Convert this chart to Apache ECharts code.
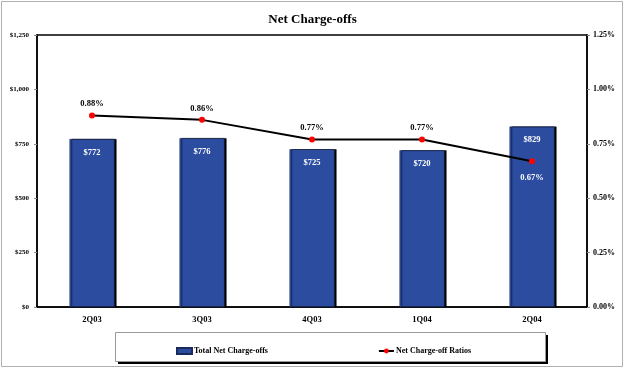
<!DOCTYPE html>
<html><head><meta charset="utf-8">
<script src="https://cdn.jsdelivr.net/npm/echarts@6/dist/echarts.min.js"></script>
<style>html,body{margin:0;padding:0;background:#fff}#c{width:625px;height:370px}</style>
</head><body><div id="c"></div>
<script>
var categories = ['2Q03','3Q03','4Q03','1Q04','2Q04'];
var chargeOffs = [772, 776, 725, 720, 829];
var ratios = [0.88, 0.86, 0.77, 0.77, 0.67];
var leftTicks = [0, 250, 500, 750, 1000, 1250];
var rightTicks = [0, 0.25, 0.5, 0.75, 1.0, 1.25];

var serif = '"Liberation Serif","Times New Roman",serif';
var chart = echarts.init(document.getElementById('c'));
chart.setOption({
  animation: false,
  textStyle: {fontFamily: serif},
  title: {text: 'Net Charge-offs', left: 'center', top: 8,
    textStyle: {fontFamily: serif, fontSize: 13, fontWeight: 'bold', color: '#000'}},
  graphic: [
    {type: 'rect', shape: {x: 1.5, y: 1.5, width: 621, height: 365}, style: {fill: 'none', stroke: '#b0b0b0', lineWidth: 1}, z: -10},
    {type: 'rect', shape: {x: 118, y: 335, width: 430, height: 29}, style: {fill: '#000', stroke: 'none'}, z: 0},
    {type: 'rect', shape: {x: 115.5, y: 332.5, width: 430, height: 29}, style: {fill: '#fff', stroke: '#999', lineWidth: 1}, z: 1}
  ],
  legend: {
    left: 171, top: 342, itemGap: 110, itemWidth: 15, itemHeight: 6, z: 10,
    textStyle: {fontFamily: serif, fontSize: 8, fontWeight: 'bold', color: '#000', padding: [0,0,0,-3]},
    data: [
      {name: 'Total Net Charge-offs', icon: 'rect', itemStyle: {shadowOffsetX: 0, shadowColor: 'transparent'}},
      {name: 'Net Charge-off Ratios'}
    ]
  },
  grid: {left: 37, right: 38, top: 35, bottom: 63, show: true, borderColor: '#000', borderWidth: 1.5, backgroundColor: 'transparent'},
  xAxis: {type: 'category', data: categories,
    axisLine: {lineStyle: {color: '#000', width: 1.5}}, axisTick: {show: false},
    axisLabel: {fontFamily: serif, fontSize: 8.5, fontWeight: 'bold', color: '#000', margin: 8}},
  yAxis: [
    {type: 'value', min: leftTicks[0], max: leftTicks[leftTicks.length-1], interval: 250,
      splitLine: {show: false}, axisLine: {show: true, lineStyle: {color: '#000', width: 1.5}},
      axisTick: {show: true, length: 3, lineStyle: {color: '#888'}},
      axisLabel: {fontFamily: serif, fontSize: 7, fontWeight: 'bold', color: '#000', margin: 8,
        formatter: function(v){ return '$' + v.toLocaleString('en-US'); }}},
    {type: 'value', min: rightTicks[0], max: rightTicks[rightTicks.length-1], interval: 0.25,
      splitLine: {show: false}, axisLine: {show: true, lineStyle: {color: '#000', width: 1.5}},
      axisTick: {show: true, length: 3, lineStyle: {color: '#888'}},
      axisLabel: {fontFamily: serif, fontSize: 8, fontWeight: 'bold', color: '#000', margin: 6,
        formatter: function(v){ return v.toFixed(2) + '%'; }}}
  ],
  series: [
    {name: 'Total Net Charge-offs', type: 'bar', data: chargeOffs, barWidth: 45, yAxisIndex: 0,
      itemStyle: {color: '#2B4C9F', borderColor: '#1a2a5a', borderWidth: 0.5, shadowColor: '#000', shadowOffsetX: 2, shadowOffsetY: 0, shadowBlur: 0},
      label: {show: true, position: 'insideTop', distance: 9, color: '#fff', fontFamily: serif, fontSize: 8.5, fontWeight: 'bold',
        formatter: function(p){ return '$' + p.value; }}},
    {name: 'Net Charge-off Ratios', type: 'line', data: ratios.map(function(v, i){
        return i === ratios.length - 1 ? {value: v, label: {position: 'bottom', distance: 9, color: '#fff'}} : v; }),
      yAxisIndex: 1, symbol: 'circle', symbolSize: 6,
      lineStyle: {color: '#000', width: 2}, itemStyle: {color: '#f00'},
      label: {show: true, position: 'top', distance: 4, color: '#000', fontFamily: serif, fontSize: 8.5, fontWeight: 'bold',
        formatter: function(p){ return p.value.toFixed(2) + '%'; }}}
  ]
});
</script></body></html>
